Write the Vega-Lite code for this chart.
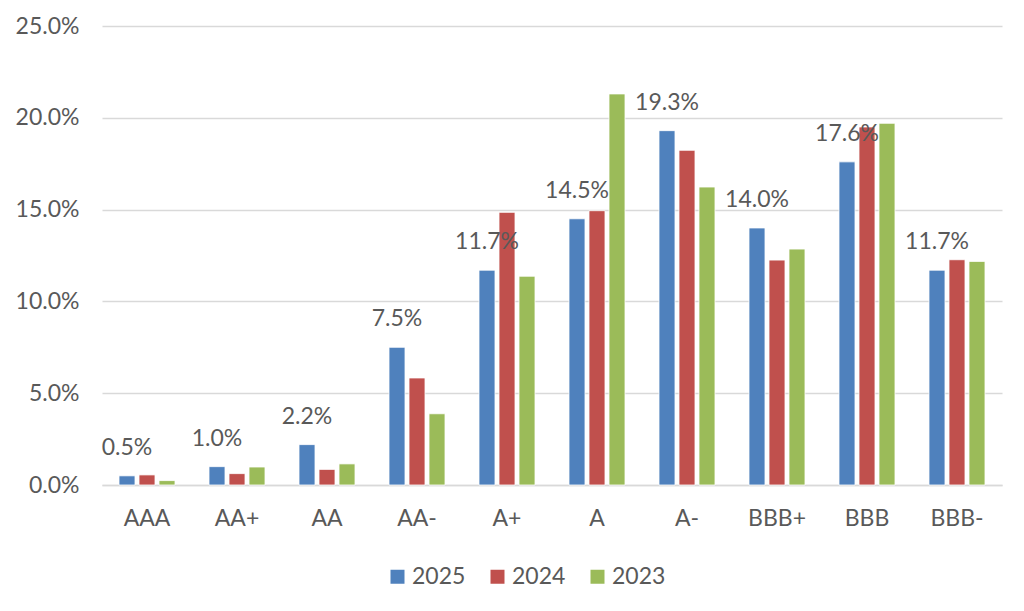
{
  "$schema": "https://vega.github.io/schema/vega-lite/v6.json",
  "autosize": {"type": "none"},
  "width": 900,
  "height": 459,
  "padding": {"left": 102, "top": 26, "right": 22, "bottom": 126},
  "background": "white",
  "config": {
    "font": "Lato",
    "view": {"stroke": null},
    "axis": {"labelFont": "Lato", "labelFontSize": 23, "labelColor": "#595959"}
  },
  "data": {
    "values": [
      {"rating": "AAA", "year": "2025", "share": 0.005},
      {"rating": "AAA", "year": "2024", "share": 0.0055},
      {"rating": "AAA", "year": "2023", "share": 0.0024},
      {"rating": "AA+", "year": "2025", "share": 0.010},
      {"rating": "AA+", "year": "2024", "share": 0.0062},
      {"rating": "AA+", "year": "2023", "share": 0.0098},
      {"rating": "AA", "year": "2025", "share": 0.022},
      {"rating": "AA", "year": "2024", "share": 0.0085},
      {"rating": "AA", "year": "2023", "share": 0.0115},
      {"rating": "AA-", "year": "2025", "share": 0.075},
      {"rating": "AA-", "year": "2024", "share": 0.0583},
      {"rating": "AA-", "year": "2023", "share": 0.0388},
      {"rating": "A+", "year": "2025", "share": 0.117},
      {"rating": "A+", "year": "2024", "share": 0.1485},
      {"rating": "A+", "year": "2023", "share": 0.1137},
      {"rating": "A", "year": "2025", "share": 0.145},
      {"rating": "A", "year": "2024", "share": 0.1494},
      {"rating": "A", "year": "2023", "share": 0.213},
      {"rating": "A-", "year": "2025", "share": 0.193},
      {"rating": "A-", "year": "2024", "share": 0.1823},
      {"rating": "A-", "year": "2023", "share": 0.1623},
      {"rating": "BBB+", "year": "2025", "share": 0.140},
      {"rating": "BBB+", "year": "2024", "share": 0.1225},
      {"rating": "BBB+", "year": "2023", "share": 0.1285},
      {"rating": "BBB", "year": "2025", "share": 0.176},
      {"rating": "BBB", "year": "2024", "share": 0.195},
      {"rating": "BBB", "year": "2023", "share": 0.197},
      {"rating": "BBB-", "year": "2025", "share": 0.117},
      {"rating": "BBB-", "year": "2024", "share": 0.1227},
      {"rating": "BBB-", "year": "2023", "share": 0.1218}
    ]
  },
  "encoding": {
    "x": {
      "field": "rating",
      "type": "nominal",
      "sort": ["AAA", "AA+", "AA", "AA-", "A+", "A", "A-", "BBB+", "BBB", "BBB-"],
      "scale": {"paddingInner": 0.3333, "paddingOuter": 0.1667},
      "axis": {"title": null, "labelAngle": 0, "ticks": false, "labelPadding": 22, "domainColor": "#d9d9d9", "domainWidth": 1.5, "grid": false}
    },
    "xOffset": {
      "field": "year",
      "type": "nominal",
      "scale": {"domain": ["2025", "2024", "2023"], "paddingInner": 0.2, "paddingOuter": 0.1}
    },
    "y": {
      "field": "share",
      "type": "quantitative",
      "scale": {"domain": [0, 0.25], "nice": false},
      "axis": {"title": null, "format": ".1%", "values": [0, 0.05, 0.1, 0.15, 0.2, 0.25], "ticks": false, "domain": false, "labelPadding": 23, "gridColor": "#d9d9d9", "gridWidth": 1.5}
    }
  },
  "layer": [
    {
      "mark": {"type": "bar", "stroke": "white", "strokeWidth": 0.8},
      "encoding": {
        "color": {
          "field": "year",
          "type": "nominal",
          "scale": {"domain": ["2025", "2024", "2023"], "range": ["#4F81BD", "#C0504D", "#9BBB59"]},
          "legend": {
            "title": null,
            "orient": "none",
            "direction": "horizontal",
            "legendX": 284,
            "legendY": 539,
            "symbolType": "square",
            "symbolSize": 196,
            "symbolStrokeWidth": 0,
            "labelFont": "Lato",
            "labelFontSize": 23,
            "labelColor": "#595959",
            "labelOffset": 3,
            "columnPadding": 20,
            "padding": 0
          }
        }
      }
    },
    {
      "transform": [{"filter": "datum.year === '2025'"}],
      "mark": {"type": "text", "dy": -28, "baseline": "middle", "fontSize": 23, "color": "#595959", "font": "Lato"},
      "encoding": {
        "text": {"field": "share", "type": "quantitative", "format": ".1%"}
      }
    }
  ]
}
